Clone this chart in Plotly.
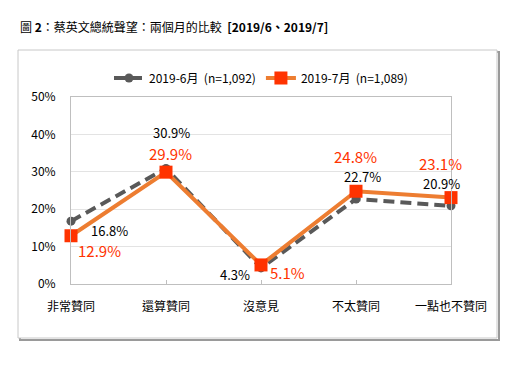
import plotly.graph_objects as go

categories = ["非常贊同", "還算贊同", "沒意見", "不太贊同", "一點也不贊同"]
june = [16.8, 30.9, 4.3, 22.7, 20.9]
july = [12.9, 29.9, 5.1, 24.8, 23.1]
june_name = "2019-6月  (n=1,092)"
july_name = "2019-7月  (n=1,089)"
yticks = [0, 10, 20, 30, 40, 50]
ytick_labels = ["0%", "10%", "20%", "30%", "40%", "50%"]

FONT = "Noto Sans CJK TC, Noto Sans, sans-serif"
O = 8  # page body offset
FW, FH = 520 - O, 365 - O
L, R, T, B = 71 - O, 451 - O, 97 - O, 284 - O
W, H = R - L, B - T

def px(xp):
    return (xp - O - L) / W

def py(yp):
    return (B - (yp - O)) / H

x_idx = list(range(len(categories)))

fig = go.Figure()
fig.add_trace(go.Scatter(
    x=x_idx, y=june, name=june_name, mode="lines+markers", cliponaxis=False,
    line=dict(color="#595959", width=4, dash="11px,6px"),
    marker=dict(symbol="circle", size=9, color="#595959"),
))
fig.add_trace(go.Scatter(
    x=x_idx, y=july, name=july_name, mode="lines+markers", cliponaxis=False,
    line=dict(color="#ED7D31", width=4),
    marker=dict(symbol="square", size=13, color="#FF3300"),
))

june_off = [(38, 9), (5, -36), (-26, 7), (6, -23), (-10, -22)]
july_off = [(28, 15), (4, -19), (26, 8), (-1, -35), (-11, -34)]

annotations = []
for i, v in enumerate(june):
    dx, dy = june_off[i]
    annotations.append(dict(x=i, y=v, xref="x", yref="y", text=f"{v}%",
                            showarrow=False, xshift=dx, yshift=-dy, borderpad=0,
                            font=dict(family=FONT, size=13, color="#000000")))
for i, v in enumerate(july):
    dx, dy = july_off[i]
    annotations.append(dict(x=i, y=v, xref="x", yref="y", text=f"{v}%",
                            showarrow=False, xshift=dx, yshift=-dy, borderpad=0,
                            font=dict(family=FONT, size=15, color="#FF3300")))

annotations.append(dict(
    x=px(18), y=py(26), xref="paper", yref="paper", xanchor="left", yanchor="middle",
    showarrow=False,
    text="圖 <b>2</b>：蔡英文總統聲望：兩個月的比較  <b>[2019/6、2019/7]</b>",
    font=dict(family=FONT, size=12, color="#000000")))

shapes = [
    dict(type="rect", xref="paper", yref="paper",
         x0=px(20), x1=px(499), y0=py(52), y1=py(340),
         line=dict(color="#9A9A9A", width=2), fillcolor="rgba(0,0,0,0)", layer="below"),
    dict(type="rect", xref="paper", yref="paper",
         x0=px(18), x1=px(497), y0=py(50), y1=py(338),
         line=dict(color="#C8C8C8", width=1), fillcolor="#FFFFFF", layer="below"),
]

fig.update_layout(
    width=FW, height=FH,
    margin=dict(l=L, r=FW - R, t=T, b=FH - B, autoexpand=False),
    paper_bgcolor="#FFFFFF", plot_bgcolor="#FFFFFF",
    font=dict(family=FONT, size=12, color="#000000"),
    showlegend=True,
    legend=dict(orientation="h", x=0.5, xanchor="center", y=py(78), yanchor="middle",
                font=dict(family=FONT, size=12, color="#000000"),
                bgcolor="rgba(0,0,0,0)", itemwidth=30, traceorder="normal"),
    xaxis=dict(range=[0, len(categories) - 1], tickmode="array", tickvals=x_idx,
               ticktext=categories, showgrid=False, zeroline=False,
               showline=True, linecolor="#BFBFBF", linewidth=1, mirror=True,
               ticks="inside", ticklen=4, tickcolor="#BFBFBF", ticklabelstandoff=12,
               tickfont=dict(family=FONT, size=12, color="#000000")),
    yaxis=dict(range=[0, 50], tickmode="array", tickvals=yticks, ticktext=ytick_labels,
               showgrid=True, gridcolor="#E3E3E3", zeroline=False,
               showline=True, linecolor="#BFBFBF", linewidth=1, mirror=True,
               ticks="", ticklabelstandoff=12,
               tickfont=dict(family=FONT, size=12, color="#000000")),
    annotations=annotations,
    shapes=shapes,
)

fig.write_html("out.html")
